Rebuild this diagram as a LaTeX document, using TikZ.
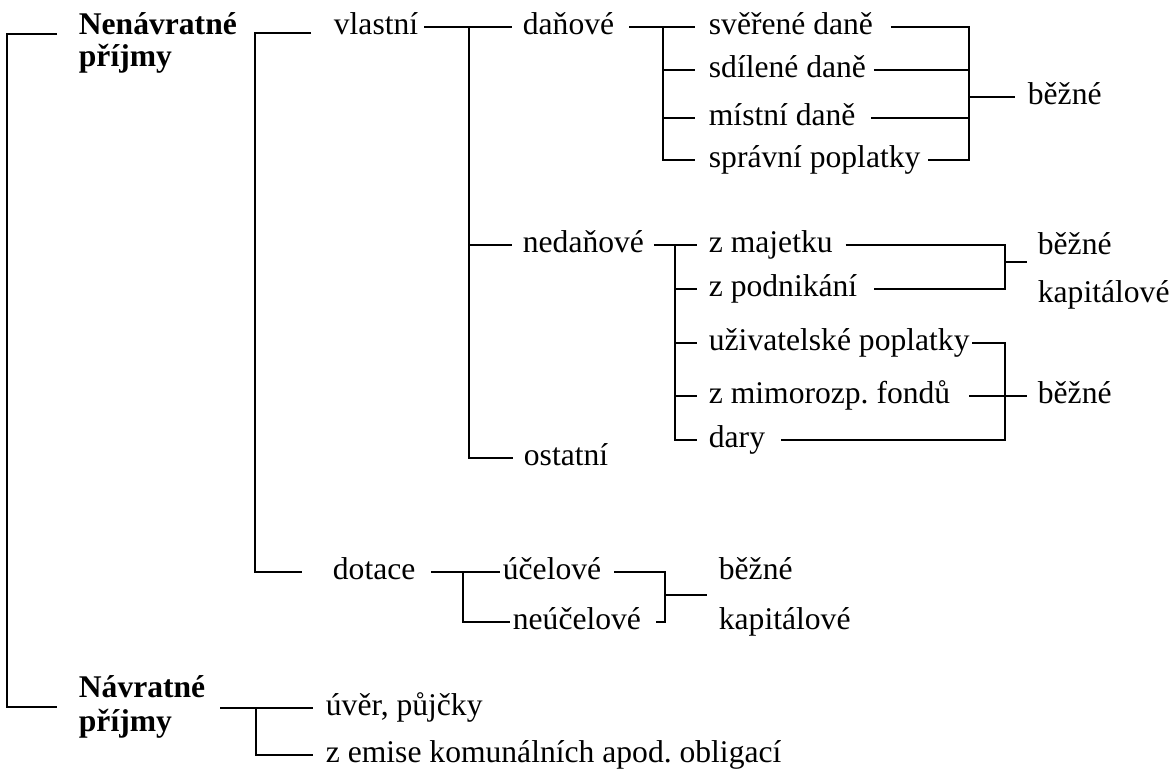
\documentclass[tikz,border=0pt]{standalone}
\usepackage{fontspec}
\setmainfont{Liberation Serif}
\usetikzlibrary{calc}
\frenchspacing

\begin{document}
\fontsize{15.8}{18}\selectfont
\begin{tikzpicture}[x=0.5pt, y=-0.5pt, line width=0.9pt,
    every node/.style={anchor=mid west, inner sep=0pt, font=\fontsize{15.8}{18}\selectfont},
    head/.style={anchor=base west, font=\fontsize{15.8}{18}\selectfont\bfseries}]
    \useasboundingbox (0,0) rectangle (1172,769);

    % Main groups
    \node[head] (nen) at (78,35) {Nenávratné};
    \node[head] (nenb) at (78,67) {příjmy};
    \node[head] (nav) at (78,697) {Návratné};
    \node[head] (navb) at (78,731) {příjmy};

    % Level 1
    \node (vl) at (333,27) {vlastní};
    \node (dot) at (332,572) {dotace};
    \node (uver) at (325,708) {úvěr, půjčky};
    \node (emise) at (325,755) {z emise komunálních apod. obligací};

    % Level 2
    \node (dan) at (522,27) {daňové};
    \node (ned) at (522,245) {nedaňové};
    \node (ost) at (523,458) {ostatní};
    \node (uc) at (502,572) {účelové};
    \node (neuc) at (512,622) {neúčelové};

    % Level 3 - danove
    \node (sver) at (708,27) {svěřené daně};
    \node (sdil) at (708,70) {sdílené daně};
    \node (mist) at (708,118) {místní daně};
    \node (sprav) at (708,160) {správní poplatky};
    % Level 3 - nedanove
    \node (maj) at (708,245) {z majetku};
    \node (podn) at (708,289) {z podnikání};
    \node (uziv) at (708,343) {uživatelské poplatky};
    \node (fond) at (708,396) {z mimorozp. fondů};
    \node (dary) at (708,440) {dary};

    % Level 4
    \node (bez1) at (1027,97) {běžné};
    \node (bez2) at (1037,247) {běžné};
    \node (kap2) at (1037,295) {kapitálové};
    \node (bez3) at (1037,396) {běžné};
    \node (bez4) at (718,572) {běžné};
    \node (kap4) at (718,622) {kapitálové};

    % Spines
    \coordinate (s0) at (7,0);
    \coordinate (s1) at (255,0);
    \coordinate (s2) at (469,0);
    \coordinate (s3) at (663,0);
    \coordinate (s4) at (675,0);
    \coordinate (s5) at (463,0);
    \coordinate (s6) at (256,0);
    \coordinate (r1) at (969,0);
    \coordinate (r2) at (1005,0);
    \coordinate (r3) at (665,0);

    % Root bracket
    \coordinate (t0) at (57,34);
    \coordinate (b0) at (57,707);
    \draw (t0) -- (t0 -| s0) -- (b0 -| s0) -- (b0);

    % Nenavratne prijmy
    \coordinate (t1) at (311,33);
    \coordinate (b1) at (302,572);
    \draw (t1) -- (t1 -| s1) -- (b1 -| s1) -- (b1);

    % vlastni
    \draw ($(vl.mid east)+(5,0)$) -- ($(dan.mid west)+(-10,0)$);
    \draw (vl.mid east -| s2) |- ($(ost.mid west)+(-10,0)$);
    \draw (ned.mid west -| s2) -- ($(ned.mid west)+(-10,0)$);

    % danove
    \draw ($(dan.mid east)+(14,0)$) -- ($(sver.mid west)+(-13,0)$);
    \draw (dan.mid east -| s3) |- ($(sprav.mid west)+(-13,0)$);
    \foreach \n in {sdil,mist}
        \draw (\n.mid west -| s3) -- ($(\n.mid west)+(-13,0)$);

    \draw ($(sver.mid east)+(17,0)$) -- (sver.mid east -| r1) |- ($(sprav.mid east)+(7,0)$);
    \draw ($(sdil.mid east)+(7,0)$) -- (sdil.mid east -| r1);
    \draw ($(mist.mid east)+(15,0)$) -- (mist.mid east -| r1);
    \draw (bez1.mid west -| r1) -- ($(bez1.mid west)+(-12,0)$);

    % nedanove
    \draw ($(ned.mid east)+(9,0)$) -- ($(maj.mid west)+(-11,0)$);
    \draw (ned.mid east -| s4) |- ($(dary.mid west)+(-11,0)$);
    \foreach \n in {podn,uziv,fond}
        \draw (\n.mid west -| s4) -- ($(\n.mid west)+(-11,0)$);

    \draw ($(maj.mid east)+(12,0)$) -- (maj.mid east -| r2) |- ($(podn.mid east)+(16,0)$);
    \coordinate (j2) at (1005,262);
    \draw (j2) -- ($(j2 -| bez2.mid west)+(-10,0)$);

    \draw ($(uziv.mid east)+(2,0)$) -- (uziv.mid east -| r2) |- ($(dary.mid east)+(15,0)$);
    \draw ($(fond.mid east)+(18,0)$) -- ($(bez3.mid west)+(-10,0)$);

    % dotace
    \draw ($(dot.mid east)+(15,0)$) -- ($(uc.mid west)+(-2,0)$);
    \draw (dot.mid east -| s5) |- ($(neuc.mid west)+(-2,0)$);
    \draw ($(uc.mid east)+(12,0)$) -- (uc.mid east -| r3) |- ($(neuc.mid east)+(14,0)$);
    \coordinate (j3) at (665,595);
    \draw (j3) -- ($(j3 -| bez4.mid west)+(-11,0)$);

    % Navratne prijmy
    \coordinate (t2) at (220,708);
    \draw (t2) -- ($(uver.mid west)+(-12,0)$);
    \draw (t2 -| s6) |- ($(emise.mid west)+(-12,0)$);

\end{tikzpicture}
\end{document}
